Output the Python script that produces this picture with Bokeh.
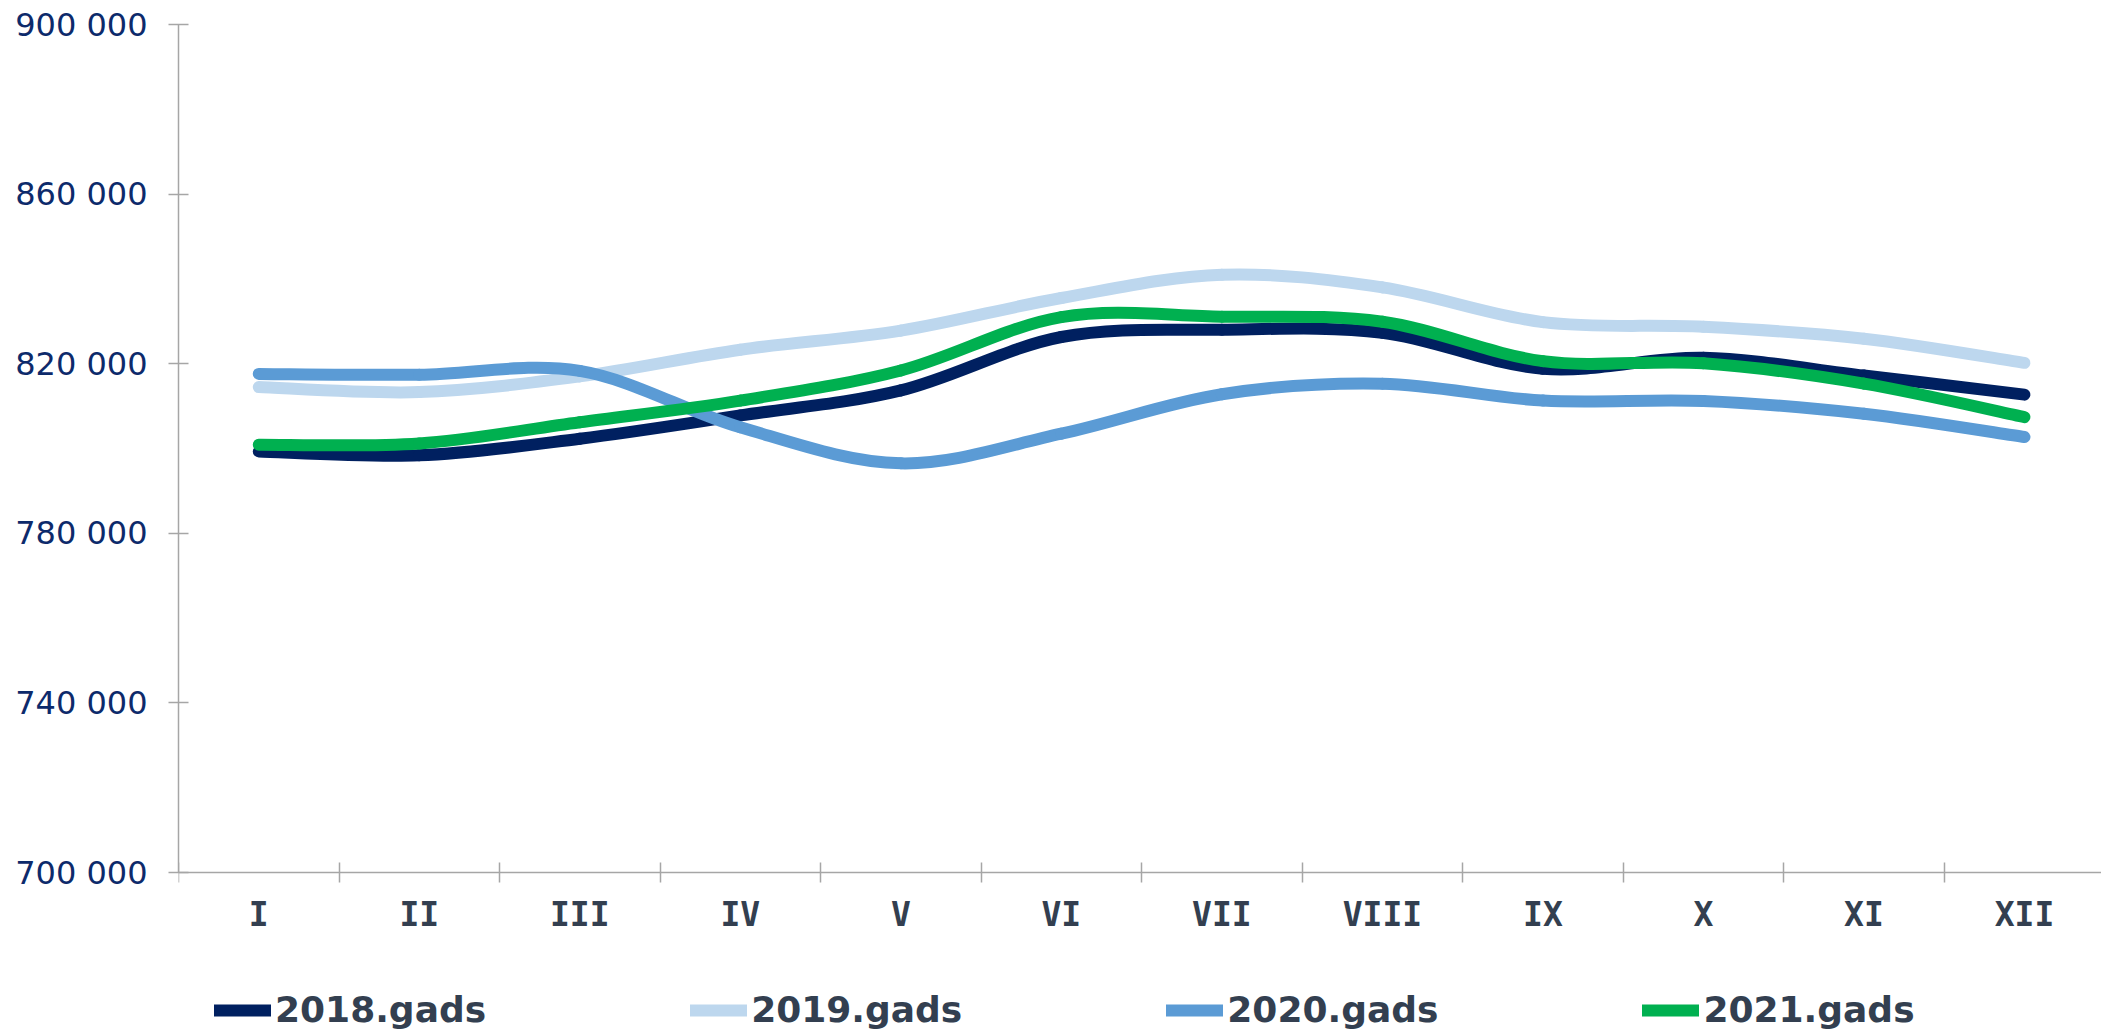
from bokeh.plotting import figure
from bokeh.models import (Range1d, FixedTicker, Legend, LegendItem, CustomJSTickFormatter,
                          ColumnDataSource)
from bokeh.embed import file_html
from bokeh.resources import INLINE

months = ["I", "II", "III", "IV", "V", "VI", "VII", "VIII", "IX", "X", "XI", "XII"]
y_ticks = [700000, 740000, 780000, 820000, 860000, 900000]
y_tick_labels = ["700 000", "740 000", "780 000", "820 000", "860 000", "900 000"]

series_names = ["2018.gads", "2019.gads", "2020.gads", "2021.gads"]
v2018 = [799300, 798400, 802300, 807800, 813700, 826300, 828000, 827300, 818800, 821400, 817200, 812700]
v2019 = [814500, 813300, 817000, 823300, 827800, 835500, 841000, 838000, 829800, 828700, 825900, 820200]
v2020 = [817600, 817400, 818300, 805000, 796500, 803500, 812800, 815300, 811300, 811200, 808200, 802700]
v2021 = [800900, 801200, 806200, 811300, 818400, 831000, 831100, 829900, 820600, 820100, 815300, 807400]
colors = ["#002060", "#BDD7EE", "#5B9BD5", "#00B050"]

AXIS_COLOR = "#A6A6A6"
Y_MIN, Y_MAX = 700000, 900000
W, H = 2101, 1032
TOP, LEFT = 24, 178
AXIS_Y_PX = 872  # pixel row of the 700 000 baseline
# frame runs to the bottom of the canvas so the legend can sit inside it
y_bottom = Y_MIN - (H - AXIS_Y_PX) * (Y_MAX - Y_MIN) / (AXIS_Y_PX - TOP)

p = figure(width=W, height=H, output_backend="svg", toolbar_location=None,
           x_range=Range1d(0, 11.98), y_range=Range1d(y_bottom, Y_MAX),
           min_border_left=LEFT, min_border_right=0, min_border_top=TOP, min_border_bottom=0)
p.grid.visible = False
p.outline_line_color = None
p.background_fill_color = "white"
p.border_fill_color = "white"

xa = p.xaxis[0]
xa.fixed_location = Y_MIN
xa.ticker = FixedTicker(ticks=[i + 0.5 for i in range(len(months))],
                        minor_ticks=list(range(len(months) + 1)))
xa.formatter = CustomJSTickFormatter(args=dict(mlabels=months),
                                     code="return mlabels[Math.floor(tick)] || '';")
xa.major_tick_in = 0
xa.major_tick_out = 0
xa.minor_tick_in = 10
xa.minor_tick_out = 10
xa.minor_tick_line_color = AXIS_COLOR
xa.minor_tick_line_width = 1.5
xa.axis_line_color = AXIS_COLOR
xa.axis_line_width = 1.5
xa.major_label_standoff = 12
xa.major_label_text_font = "DejaVu Sans Mono"
xa.major_label_text_font_style = "bold"
xa.major_label_text_font_size = "33px"
xa.major_label_text_color = "#333F50"

ya = p.yaxis[0]
ya.bounds = (Y_MIN, Y_MAX)
ya.ticker = FixedTicker(ticks=y_ticks, minor_ticks=[])
ya.formatter = CustomJSTickFormatter(args=dict(tvals=y_ticks, tlabels=y_tick_labels),
                                     code="const i = tvals.indexOf(tick); return i >= 0 ? tlabels[i] : '';")
ya.major_tick_in = 10
ya.major_tick_out = 10
ya.major_tick_line_color = AXIS_COLOR
ya.major_tick_line_width = 1.5
ya.axis_line_color = AXIS_COLOR
ya.axis_line_width = 1.5
ya.major_label_standoff = 21
ya.major_label_text_font = "DejaVu Sans"
ya.major_label_text_font_size = "32px"
ya.major_label_text_color = "#0D2A6B"

xs = [i + 0.5 for i in range(len(months))]

def smooth_segments(x, y):
    n = len(x)
    x0, y0, x1, y1, cx0, cy0, cx1, cy1 = [], [], [], [], [], [], [], []
    for i in range(n - 1):
        pm = i - 1 if i > 0 else i
        pp = i + 2 if i + 2 < n else i + 1
        x0.append(x[i]); y0.append(y[i]); x1.append(x[i + 1]); y1.append(y[i + 1])
        cx0.append(x[i] + (x[i + 1] - x[pm]) / 6.0)
        cy0.append(y[i] + (y[i + 1] - y[pm]) / 6.0)
        cx1.append(x[i + 1] - (x[pp] - x[i]) / 6.0)
        cy1.append(y[i + 1] - (y[pp] - y[i]) / 6.0)
    return dict(x0=x0, y0=y0, x1=x1, y1=y1, cx0=cx0, cy0=cy0, cx1=cx1, cy1=cy1)

items = []
for name, vals, col in zip(series_names, [v2018, v2019, v2020, v2021], colors):
    seg = smooth_segments(xs, vals)
    p.bezier(source=seg, x0="x0", y0="y0", x1="x1", y1="y1", cx0="cx0", cy0="cy0",
             cx1="cx1", cy1="cy1", line_color=col, line_width=12, line_cap="round")
    # legend swatch renderer: same data, kept muted with an invisible muted style
    src = ColumnDataSource(dict(x=xs, y=vals))
    r = p.line(x="x", y="y", source=src, line_color=col, line_width=12, line_cap="round",
               muted_color=col, muted_alpha=0)
    r.muted = True
    items.append(LegendItem(label=name, renderers=[r]))

legend = Legend(items=items, orientation="horizontal", location=(36, 2),
                glyph_width=57, glyph_height=20, label_standoff=4, spacing=204,
                padding=0, margin=0, border_line_color=None, background_fill_alpha=0,
                inactive_fill_alpha=0, click_policy="none",
                label_text_font="DejaVu Sans", label_text_font_style="bold",
                label_text_font_size="36px", label_text_color="#333F50")
p.add_layout(legend, "center")

open("out.html", "w").write(file_html(p, INLINE))
